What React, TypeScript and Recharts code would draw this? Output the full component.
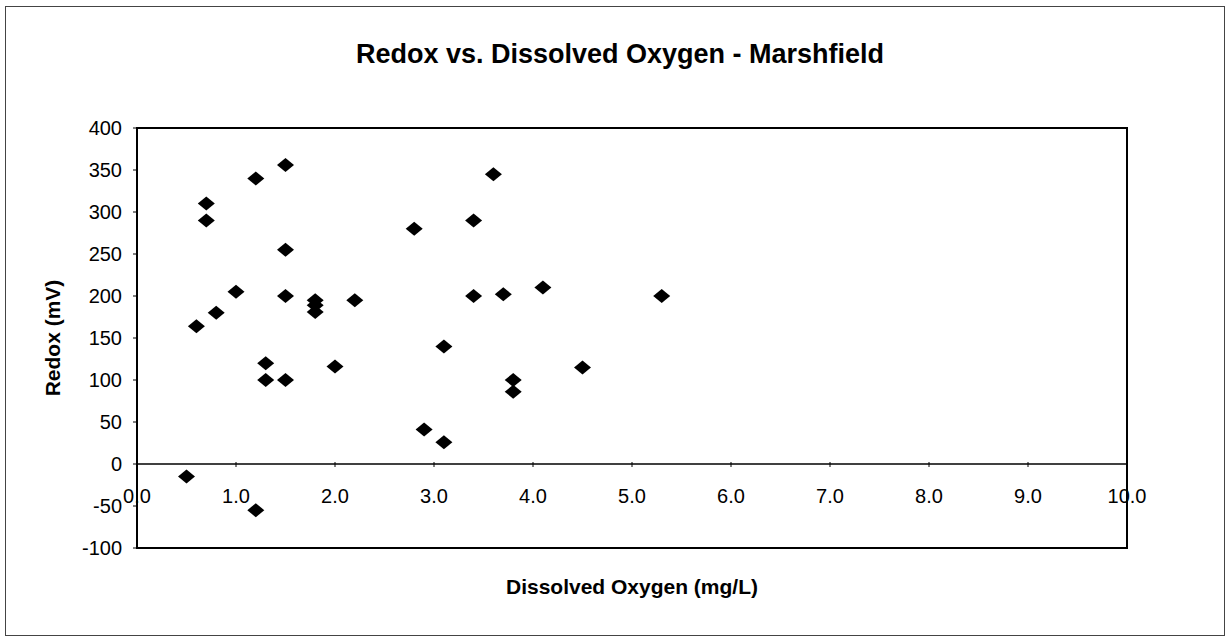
import React from 'react';
import {
  ReferenceArea,
  ReferenceLine,
  Scatter,
  ScatterChart,
  XAxis,
  YAxis,
} from 'recharts';

// dissolved oxygen (mg/L) and matching redox (mV) readings
const dissolvedOxygen = [
  0.5, 0.6, 0.7, 0.7, 0.8, 1.0, 1.2, 1.2, 1.3, 1.3, 1.5, 1.5, 1.5, 1.5, 1.8, 1.8,
  1.8, 2.0, 2.2, 2.8, 2.9, 3.1, 3.1, 3.4, 3.4, 3.6, 3.7, 3.8, 3.8, 4.1, 4.5, 5.3,
];
const redox = [
  -15, 164, 310, 290, 180, 205, 340, -55, 120, 100, 356, 255, 200, 100, 195, 189,
  181, 116, 195, 280, 41, 140, 26, 290, 200, 345, 202, 100, 86, 210, 115, 200,
];

const xTicks = [0, 1, 2, 3, 4, 5, 6, 7, 8, 9, 10];
const yTicks = [-100, -50, 0, 50, 100, 150, 200, 250, 300, 350, 400];

const data = dissolvedOxygen.map((d, i) => ({ oxygen: d, redox: redox[i] }));

const FONT = "'Liberation Sans', Arial, Helvetica, sans-serif";

const Diamond = (props: any) => {
  const { cx, cy } = props;
  if (cx == null || cy == null) return null;
  return (
    <polygon
      points={`${cx - 8.5},${cy} ${cx},${cy - 7} ${cx + 8.5},${cy} ${cx},${cy + 7}`}
      fill="#000"
    />
  );
};

// x ticks are drawn up on the zero line, like the original Excel chart
const XTick = (props: any) => {
  const { x, y, payload } = props;
  return (
    <g>
      <line x1={x} x2={x} y1={y - 86} y2={y - 81} stroke="#000" strokeWidth={1} />
      <text
        x={x}
        y={y - 45}
        textAnchor="middle"
        fontFamily={FONT}
        fontSize={20}
        fill="#000"
      >
        {Number(payload.value).toFixed(1)}
      </text>
    </g>
  );
};

const YLabel = (props: any) => {
  const { viewBox } = props;
  const cx = 52;
  const cy = viewBox.y + viewBox.height / 2;
  return (
    <text
      x={cx}
      y={cy}
      transform={`rotate(-90, ${cx}, ${cy})`}
      textAnchor="middle"
      dominantBaseline="central"
      fontFamily={FONT}
      fontWeight="bold"
      fontSize={21}
      fill="#000"
    >
      Redox (mV)
    </text>
  );
};

const XLabel = (props: any) => {
  const { viewBox } = props;
  return (
    <text
      x={viewBox.x + viewBox.width / 2}
      y={viewBox.y + 46}
      textAnchor="middle"
      fontFamily={FONT}
      fontWeight="bold"
      fontSize={21}
      fill="#000"
    >
      Dissolved Oxygen (mg/L)
    </text>
  );
};

export default function App() {
  return (
    <div
      style={{
        position: 'absolute',
        left: 0,
        top: 0,
        width: 1229,
        height: 639,
        background: '#fff',
        overflow: 'hidden',
      }}
    >
      <div
        style={{
          position: 'absolute',
          left: 5,
          top: 6,
          width: 1220,
          height: 630,
          border: '1.5px solid #444',
          boxSizing: 'border-box',
        }}
      />
      <div
        style={{
          position: 'absolute',
          left: 0,
          top: 41,
          width: 1240,
          textAlign: 'center',
          fontFamily: FONT,
          fontWeight: 'bold',
          fontSize: 27,
          lineHeight: '27px',
          color: '#000',
        }}
      >
        Redox vs. Dissolved Oxygen - Marshfield
      </div>
      <ScatterChart
        width={1229}
        height={639}
        margin={{ top: 128, right: 102, bottom: 90, left: 37 }}
        style={{ position: 'absolute', left: 0, top: 0 }}
      >
        <XAxis
          type="number"
          dataKey="oxygen"
          domain={[0, 10]}
          ticks={xTicks}
          interval={0}
          height={1}
          tickSize={0}
          tickMargin={0}
          axisLine={false}
          tickLine={false}
          tick={<XTick />}
          label={<XLabel />}
        />
        <YAxis
          type="number"
          dataKey="redox"
          domain={[-100, 400]}
          ticks={yTicks}
          interval={0}
          width={100}
          axisLine={false}
          tickLine={{ stroke: '#000', strokeWidth: 1 }}
          tickSize={4}
          tickMargin={11}
          tick={{ fontFamily: FONT, fontSize: 20, fill: '#000' }}
          label={<YLabel />}
        />
        <ReferenceArea
          x1={0}
          x2={10}
          y1={-100}
          y2={400}
          fill="none"
          stroke="#000"
          strokeWidth={2}
        />
        <ReferenceLine y={0} stroke="#000" strokeWidth={1.5} />
        <Scatter data={data} shape={<Diamond />} isAnimationActive={false} />
      </ScatterChart>
    </div>
  );
}
